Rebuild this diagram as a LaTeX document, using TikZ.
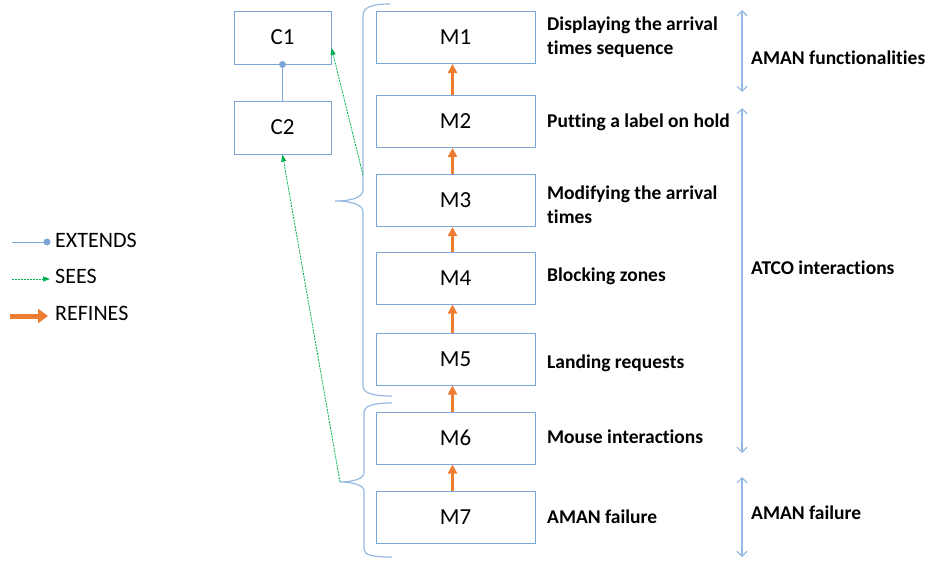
\documentclass[tikz,border=0pt]{standalone}
\usepackage{fontspec}
\setmainfont[Ligatures=NoCommon]{Carlito}
\usetikzlibrary{arrows.meta}
\definecolor{boxblue}{RGB}{124,166,214}
\definecolor{braceblue}{RGB}{150,185,225}
\definecolor{seegreen}{RGB}{0,176,80}
\definecolor{reforange}{RGB}{237,125,49}
\begin{document}
\begin{tikzpicture}[x=1pt,y=-1pt,
 box/.style={draw=boxblue,line width=1pt,minimum width=159pt,minimum height=52pt,inner sep=0pt,font=\fontsize{23}{26}\selectfont},
 cbox/.style={box,minimum width=97pt,minimum height=53pt},
 lbl/.style={anchor=west,align=left,font=\fontsize{19.5}{24}\selectfont\bfseries,inner sep=0pt},
 refarrow/.style={draw=reforange,line width=3pt,-{Triangle[length=9pt,width=9pt]}},
 seearrow/.style={draw=seegreen,line width=0.8pt,dash pattern=on 2pt off 1pt,-{Triangle[length=7pt,width=5pt]}},
 extline/.style={draw=boxblue,line width=1pt},
 spanarrow/.style={draw=braceblue,line width=1.2pt,{Straight Barb[length=5pt,width=10pt]}-{Straight Barb[length=5pt,width=10pt]}},
 bracestyle/.style={draw=braceblue,line width=1.2pt},
 legend/.style={anchor=west,inner sep=0pt,font=\fontsize{22}{26}\selectfont}]
\useasboundingbox (0,0) rectangle (927,560);

% model boxes
\node[box] (M1) at (455.5,37.5) {M1};
\node[box] (M2) at (455.5,121.5) {M2};
\node[box] (M3) at (455.5,200.5) {M3};
\node[box] (M4) at (455.5,278) {M4};
\node[box] (M5) at (455.5,359) {M5};
\node[box] (M6) at (455.5,438) {M6};
\node[box] (M7) at (455.5,517) {M7};

% context boxes
\node[cbox] (C1) at (282.5,37.5) {C1};
\node[cbox] (C2) at (282.5,127.5) {C2};

% refines arrows
\draw[refarrow] ([xshift=-3pt]M2.north) -- ([xshift=-3pt]M1.south);
\draw[refarrow] ([xshift=-3pt]M3.north) -- ([xshift=-3pt]M2.south);
\draw[refarrow] ([xshift=-3pt]M4.north) -- ([xshift=-3pt]M3.south);
\draw[refarrow] ([xshift=-3pt]M5.north) -- ([xshift=-3pt]M4.south);
\draw[refarrow] ([xshift=-3pt]M6.north) -- ([xshift=-3pt]M5.south);
\draw[refarrow] ([xshift=-3pt]M7.north) -- ([xshift=-3pt]M6.south);

% extends
\draw[extline] (C2.north) -- (C1.south);
\fill[boxblue] (C1.south) circle (3.5);

% braces
\draw[bracestyle] (390,4) .. controls (372,4) and (363,7) .. (363,16) -- (363,190)
  .. controls (363,198) and (350,201) .. (335,201)
  .. controls (350,201) and (363,204) .. (363,212) -- (363,386)
  .. controls (363,393) and (372,396) .. (392,396);
\draw[bracestyle] (392,403) .. controls (372,403) and (364,406) .. (364,413) -- (364,473)
  .. controls (364,479) and (352,482) .. (340,482)
  .. controls (352,482) and (364,485) .. (364,491) -- (364,549)
  .. controls (364,555) and (372,557) .. (392,557);
\coordinate (b1) at (363,175);
\coordinate (b2) at (340,482);

% sees arrows
\draw[seearrow] (b1) -- (C1.-12);
\draw[seearrow] (b2) -- (C2.south);

% labels
\node[lbl] (L1) at (547,37.5) {Displaying the arrival\\times sequence};
\node[lbl] (L2) at (547,122.5) {Putting a label on hold};
\node[lbl] (L3) at (547,205) {Modifying the arrival\\times};
\node[lbl] (L4) at (547,276) {Blocking zones};
\node[lbl] (L5) at (547,363) {Landing requests};
\node[lbl] (L6) at (547,437) {Mouse interactions};
\node[lbl] (L7) at (547,517) {AMAN failure};

% span arrows
\coordinate (s1a) at (742,10);
\coordinate (s1b) at (742,92);
\coordinate (s2a) at (742,108);
\coordinate (s2b) at (742,453);
\coordinate (s3a) at (742,477);
\coordinate (s3b) at (742,557);
\draw[spanarrow] (s1a) -- (s1b);
\draw[spanarrow] (s2a) -- (s2b);
\draw[spanarrow] (s3a) -- (s3b);
\node[lbl] (G1) at (751,58) {AMAN functionalities};
\node[lbl] (G2) at (751,268) {ATCO interactions};
\node[lbl] (G3) at (751,513) {AMAN failure};

% legend
\coordinate (e1) at (12,242);
\coordinate (e2) at (47,242);
\coordinate (f1) at (12,279);
\coordinate (f2) at (50,279);
\coordinate (g1) at (10,316);
\coordinate (g2) at (48,316);
\draw[extline] (e1) -- (e2);
\fill[boxblue] (e2) circle (3.5);
\draw[seearrow] (f1) -- (f2);
\draw[draw=reforange,line width=5pt,-{Triangle[length=10pt,width=14pt]}] (g1) -- (g2);
\node[legend] (T1) at (55,240) {EXTENDS};
\node[legend] (T2) at (55,276) {SEES};
\node[legend] (T3) at (55,313) {REFINES};
\end{tikzpicture}
\end{document}
